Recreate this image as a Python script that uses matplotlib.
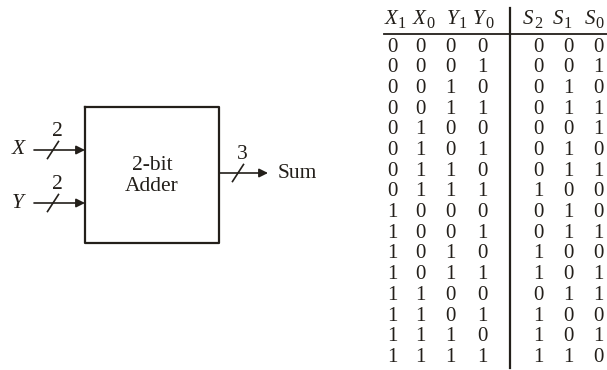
import matplotlib
matplotlib.use("Agg")
import matplotlib.pyplot as plt

plt.rcParams['font.family'] = ['Liberation Serif', 'DejaVu Serif']

# Truth table data
input_letters = ['X', 'X', 'Y', 'Y']
input_subs = ['1', '0', '1', '0']
output_letters = ['S', 'S', 'S']
output_subs = ['2', '1', '0']
X1 = [0, 0, 0, 0, 0, 0, 0, 0, 1, 1, 1, 1, 1, 1, 1, 1]
X0 = [0, 0, 0, 0, 1, 1, 1, 1, 0, 0, 0, 0, 1, 1, 1, 1]
Y1 = [0, 0, 1, 1, 0, 0, 1, 1, 0, 0, 1, 1, 0, 0, 1, 1]
Y0 = [0, 1, 0, 1, 0, 1, 0, 1, 0, 1, 0, 1, 0, 1, 0, 1]
S2 = [0, 0, 0, 0, 0, 0, 0, 1, 0, 0, 1, 1, 0, 1, 1, 1]
S1 = [0, 0, 1, 1, 0, 1, 1, 0, 1, 1, 0, 0, 1, 0, 0, 1]
S0 = [0, 1, 0, 1, 1, 0, 1, 0, 0, 1, 0, 1, 1, 0, 1, 0]

# Block diagram labels
block_text = "2-bit\nAdder"
in_labels = ['X', 'Y']
in_widths = ['2', '2']
out_label = 'Sum'
out_width = '3'

fig = plt.figure(figsize=(6.07, 3.70), dpi=100)
ax = fig.add_axes([0, 0, 1, 1])
ax.set_xlim(0, 607)
ax.set_ylim(370, 0)
ax.axis('off')

ink = '#231f1a'
fs = 15.5
tfs = 15

# Block
bx0, by0, bx1, by1 = 85, 107, 219, 243
ax.plot([bx0, bx1, bx1, bx0, bx0], [by0, by0, by1, by1, by0], color=ink, lw=1.6)
ax.text((bx0 + bx1) / 2, 176, block_text, ha='center', va='center',
        fontsize=fs, color=ink, linespacing=1.2)

def bus(x0, x1, y, xs, width_label):
    ax.annotate('', xy=(x1, y), xytext=(x0, y),
                arrowprops=dict(arrowstyle='-|>', color=ink, lw=1.2,
                                mutation_scale=13, shrinkA=0, shrinkB=0))
    ax.plot([xs - 5.5, xs + 5.5], [y + 8.5, y - 8.5], color=ink, lw=1.2)
    ax.text(xs + 4, y - 14, width_label, ha='center', va='baseline',
            fontsize=fs, color=ink)

for lab, w, y in zip(in_labels, in_widths, [150, 203]):
    bus(34, bx0, y, 53, w)
    ax.text(18, y, lab, ha='center', va='center', fontsize=fs,
            style='italic', color=ink)

bus(bx1, 268, 173, 238, out_width)
ax.text(278, 173, out_label, ha='left', va='center', fontsize=fs, color=ink)

# Table
in_cols = [392, 420, 450, 482]
out_cols = [538, 568, 598]
hdr_y = 19
row0 = 47
dy = 20.7

sub_off = {'X': 13.0, 'Y': 12.0, 'S': 10.8}

def header(x_left, letter, sub):
    ax.text(x_left, hdr_y, letter, ha='left', va='center', fontsize=tfs,
            style='italic', color=ink)
    ax.text(x_left + sub_off[letter], hdr_y + 5, sub, ha='left', va='center',
            fontsize=tfs * 0.78, color=ink)

for x, l, s in zip([385, 413, 447, 473], input_letters, input_subs):
    header(x, l, s)
for x, l, s in zip([523, 553, 585], output_letters, output_subs):
    header(x, l, s)

ax.plot([384, 607], [34, 34], color=ink, lw=1.3)
ax.plot([510, 510], [8, 368], color=ink, lw=1.6)

in_data = [X1, X0, Y1, Y0]
out_data = [S2, S1, S0]
for i in range(16):
    y = row0 + i * dy
    for x, col in zip(in_cols, in_data):
        ax.text(x, y, str(col[i]), ha='center', va='center', fontsize=tfs, color=ink)
    for x, col in zip(out_cols, out_data):
        ax.text(x, y, str(col[i]), ha='center', va='center', fontsize=tfs, color=ink)

fig.savefig('out.png', dpi=100, facecolor='white')
